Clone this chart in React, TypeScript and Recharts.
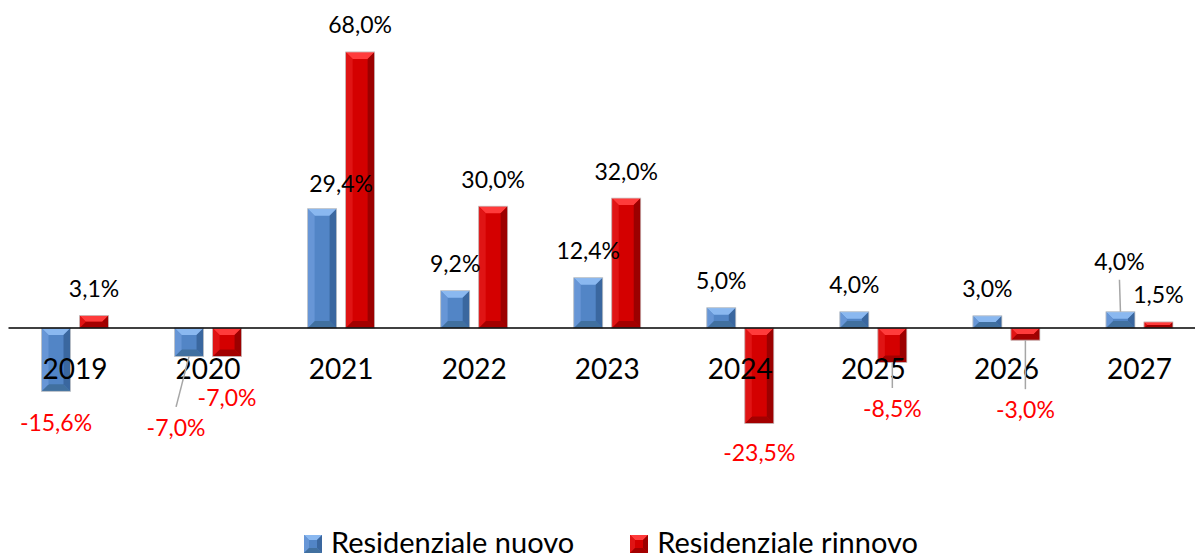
import React from 'react';
import { BarChart, Bar, XAxis, YAxis, ReferenceLine, LabelList } from 'recharts';

const categories = ['2019', '2020', '2021', '2022', '2023', '2024', '2025', '2026', '2027'];
const residenzialeNuovo = [-15.6, -7.0, 29.4, 9.2, 12.4, 5.0, 4.0, 3.0, 4.0];
const residenzialeRinnovo = [3.1, -7.0, 68.0, 30.0, 32.0, -23.5, -8.5, -3.0, 1.5];

// label nudges (px) for labels Excel moved by hand, and which ones got a leader line
const nuovoNudgeX = [0, -13, 19, 0, 0, 0, 0, 0, -1];
const nuovoNudgeY = [2, 41.5, 2, 0, 0, 0, 0, 0, -23.5];
const nuovoLeader = [false, true, false, false, false, false, false, false, true];
const rinnovoNudgeX = [0, 0, 0, 0, 0, 0, 0, 0, 0];
const rinnovoNudgeY = [0, 11.5, 0, 0, 0, 0, 16.5, 40, 0];
const rinnovoLeader = [false, false, false, false, false, false, true, true, false];

const data = categories.map((year, i) => ({
  year,
  nuovo: residenzialeNuovo[i],
  rinnovo: residenzialeRinnovo[i],
}));

const Y_MIN = -30;
const Y_MAX = 75;
const TOP = 23.5;
const CHART_H = 530;
const BOTTOM = 50.2;
const X_AXIS_H = 30;
const PLOT_H = CHART_H - TOP - BOTTOM - X_AXIS_H;
const ZERO_Y = TOP + (PLOT_H * Y_MAX) / (Y_MAX - Y_MIN);

const FONT = 'Lato, "Open Sans", sans-serif';

const blue = { face: '#5285c6', top: '#8ab8f0', left: '#6796d6', right: '#3a679f', bottom: '#41709f' };
const red = { face: '#d40000', top: '#ff3b3b', left: '#e01414', right: '#9c0000', bottom: '#a30000' };

type Pal = typeof blue;

function bevelShape(pal: Pal) {
  return (props: any) => {
    const { x, y, width, height } = props;
    if (width == null || height == null) return null;
    const top = Math.min(y, y + height);
    const h = Math.abs(height);
    const w = width;
    const b = Math.min(7, w / 2, h / 2);
    const r = x + w;
    const bt = top + h;
    return (
      <g>
        <rect x={x} y={top} width={w} height={h} fill={pal.face} />
        <polygon points={`${x},${top} ${r},${top} ${r - b},${top + b} ${x + b},${top + b}`} fill={pal.top} />
        <polygon points={`${x},${bt} ${r},${bt} ${r - b},${bt - b} ${x + b},${bt - b}`} fill={pal.bottom} />
        <polygon points={`${x},${top} ${x + b},${top + b} ${x + b},${bt - b} ${x},${bt}`} fill={pal.left} />
        <polygon points={`${r},${top} ${r - b},${top + b} ${r - b},${bt - b} ${r},${bt}`} fill={pal.right} />
        <rect x={x} y={top} width={w} height={h} fill="none" stroke="#c8c8c8" strokeWidth={0.8} />
      </g>
    );
  };
}

const fmt = (v: number) => v.toFixed(1).replace('.', ',') + '%';

function barLabel(nx: number[], ny: number[], leader: boolean[]) {
  return (props: any) => {
    const { x, y, width, height, value, index } = props;
    if (value == null) return null;
    const top = Math.min(y, y + height);
    const bt = Math.max(y, y + height);
    const cx = x + width / 2;
    const neg = value < 0;
    const lx = cx + nx[index];
    const ly = (neg ? bt + 30 : top - 26.5) + ny[index];
    return (
      <g>
        {leader[index] && (
          <line
            x1={cx}
            y1={neg ? bt : top}
            x2={lx}
            y2={neg ? ly - 21 : ly + 18}
            stroke="#a6a6a6"
            strokeWidth={1.5}
          />
        )}
        <text
          x={lx}
          y={ly + 8}
          textAnchor="middle"
          fontFamily={FONT}
          fontSize={23}
          fill={neg ? '#ff0000' : '#000000'}
        >
          {fmt(value)}
        </text>
      </g>
    );
  };
}

const YearTick = (props: any) => {
  const { x, payload } = props;
  return (
    <text x={x} y={ZERO_Y + 50.5} textAnchor="middle" fontFamily={FONT} fontSize={28} fill="#000">
      {payload.value}
    </text>
  );
};

const LegendIcon = ({ pal }: { pal: Pal }) => (
  <svg width={18} height={18} style={{ display: 'block', marginTop: 3 }}>
    <rect x={0} y={0} width={18} height={18} fill={pal.face} />
    <polygon points="0,0 18,0 13,5 5,5" fill={pal.top} />
    <polygon points="0,0 5,5 5,13 0,18" fill={pal.left} />
    <polygon points="18,0 13,5 13,13 18,18" fill={pal.right} />
    <polygon points="0,18 18,18 13,13 5,13" fill={pal.bottom} />
  </svg>
);

export default function App() {
  return (
    <div
      style={{
        position: 'absolute',
        left: 0,
        top: 0,
        width: 1195,
        height: 559,
        overflow: 'hidden',
        background: '#fff',
      }}
    >
      <BarChart
        width={1206}
        height={CHART_H}
        data={data}
        margin={{ top: TOP, right: 0, left: 8.5, bottom: BOTTOM }}
        barCategoryGap={33}
        barGap={9}
      >
        <XAxis
          dataKey="year"
          axisLine={false}
          tickLine={false}
          interval={0}
          height={X_AXIS_H}
          tick={<YearTick />}
        />
        <YAxis hide type="number" domain={[Y_MIN, Y_MAX]} allowDataOverflow />
        <Bar dataKey="nuovo" shape={bevelShape(blue)} isAnimationActive={false}>
          <LabelList dataKey="nuovo" content={barLabel(nuovoNudgeX, nuovoNudgeY, nuovoLeader)} />
        </Bar>
        <Bar dataKey="rinnovo" shape={bevelShape(red)} isAnimationActive={false}>
          <LabelList dataKey="rinnovo" content={barLabel(rinnovoNudgeX, rinnovoNudgeY, rinnovoLeader)} />
        </Bar>
        <ReferenceLine y={0} stroke="#000" strokeWidth={1.5} />
      </BarChart>
      <div
        style={{
          position: 'absolute',
          left: 304,
          top: 527,
          height: 30,
          display: 'flex',
          alignItems: 'center',
          fontFamily: FONT,
          fontSize: 29,
          color: '#000',
          lineHeight: '30px',
          whiteSpace: 'nowrap',
        }}
      >
        <LegendIcon pal={blue} />
        <span style={{ marginLeft: 9 }}>Residenziale nuovo</span>
        <span style={{ marginLeft: 56, display: 'flex' }}>
          <LegendIcon pal={red} />
        </span>
        <span style={{ marginLeft: 9 }}>Residenziale rinnovo</span>
      </div>
    </div>
  );
}
